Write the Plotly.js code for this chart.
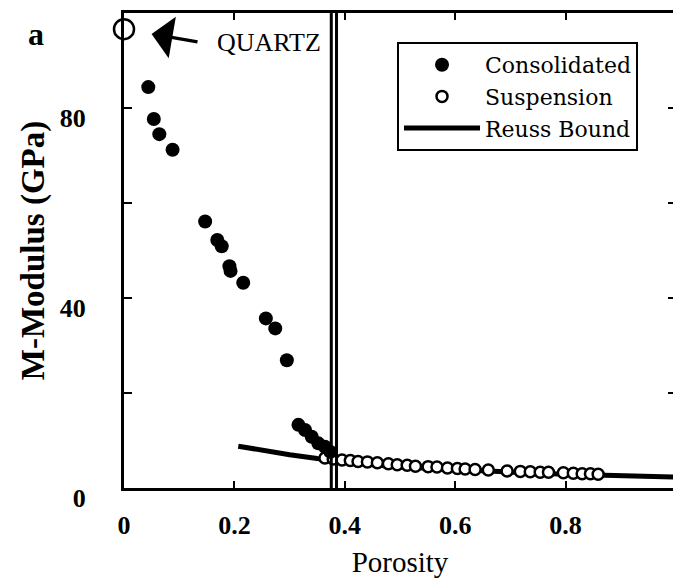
<!DOCTYPE html>
<html>
<head>
<meta charset="utf-8">
<script src="https://cdn.plot.ly/plotly-3.0.1.min.js"></script>
<style>
html,body{margin:0;padding:0;background:#fff;overflow:hidden;}
#chart{width:676px;height:578px;}
</style>
</head>
<body>
<div id="chart"></div>
<script>
// ---- data ----
const consolidatedPorosity = [0.044,0.054,0.064,0.088,0.147,0.169,0.177,0.191,0.193,0.216,0.257,0.274,0.295,0.316,0.328,0.340,0.352,0.364,0.374];
const consolidatedModulus  = [84.4,77.7,74.5,71.2,56.1,52.2,50.9,46.7,45.7,43.2,35.7,33.6,26.9,13.3,12.2,10.8,9.4,8.7,7.6];

const suspensionPorosity = [0.364,0.379,0.395,0.410,0.424,0.441,0.459,0.479,0.495,0.513,0.528,0.551,0.567,0.586,0.604,0.618,0.636,0.660,0.694,0.718,0.736,0.754,0.769,0.796,0.814,0.830,0.845,0.859];
const suspensionModulus  = [6.3,6.1,5.9,5.8,5.6,5.5,5.3,5.1,4.9,4.8,4.6,4.5,4.4,4.2,4.1,4.0,3.9,3.8,3.6,3.5,3.4,3.3,3.3,3.2,3.1,3.0,3.0,2.9];

const reussPorosity = [0.207,0.25,0.30,0.35,0.40,0.45,0.50,0.55,0.60,0.65,0.70,0.75,0.80,0.85,0.90,0.95,1.00];
const reussModulus  = [8.8,7.9,7.0,6.2,5.5,4.9,4.4,4.1,3.8,3.5,3.3,3.1,2.9,2.75,2.6,2.45,2.3];

const quartzPorosity = [0];
const quartzModulus  = [96.6];

const criticalPorosityLines = [0.3755, 0.385];

const xTickVals = [0,0.2,0.4,0.6,0.8];
const xTickText = ['0','0.2','0.4','0.6','0.8'];
const yTickVals = [0,20,40,60,80];
const yTickText = ['0','','40','','80'];

// ---- chart ----
const serif = 'Liberation Serif, Times New Roman, serif';
const wideSerif = 'DejaVu Serif, serif';

const traces = [
  {x: reussPorosity, y: reussModulus, mode:'lines', name:'Reuss Bound',
   line:{color:'#000', width:5}, legendrank:3},
  {x: suspensionPorosity, y: suspensionModulus, mode:'markers', name:'Suspension',
   marker:{symbol:'circle', size:11, color:'#fff', line:{color:'#000', width:2.5}}, legendrank:2},
  {x: consolidatedPorosity, y: consolidatedModulus, mode:'markers', name:'Consolidated',
   marker:{symbol:'circle', size:14, color:'#000'}, legendrank:1},
  {x: quartzPorosity, y: quartzModulus, mode:'markers', name:'Quartz', showlegend:false,
   marker:{symbol:'circle', size:20, color:'#fff', line:{color:'#000', width:2.5}}, cliponaxis:false}
];

const shapes = criticalPorosityLines.map(v => ({
  type:'line', xref:'x', yref:'y', x0:v, x1:v, y0:0, y1:100,
  line:{color:'#000', width:3}
}));

const layout = {
  width:676, height:578,
  margin:{l:124, r:0, t:13, b:90},
  paper_bgcolor:'#fff', plot_bgcolor:'#fff',
  font:{family:serif, color:'#000'},
  showlegend:true,
  legend:{
    x:0.4946, xanchor:'left', y:0.939, yanchor:'top',
    bgcolor:'#fff', bordercolor:'#000', borderwidth:2,
    font:{family:wideSerif, size:22, color:'#000'},
    itemwidth:76, tracegroupgap:0
  },
  xaxis:{
    range:[0,1], tickvals:xTickVals, ticktext:xTickText,
    ticks:'inside', ticklen:7, tickwidth:2, tickcolor:'#000',
    showline:true, linewidth:3, linecolor:'#000', mirror:'ticks',
    showgrid:false, zeroline:false,
    tickfont:{family:serif, size:26, weight:'bold', color:'#000'},
    ticklabelstandoff:12,
    title:{text:'Porosity', font:{family:serif, size:29, color:'#000'}, standoff:16}
  },
  yaxis:{
    range:[0,100], tickvals:yTickVals, ticktext:yTickText,
    ticks:'inside', ticklen:8, tickwidth:2, tickcolor:'#000',
    showline:true, linewidth:3, linecolor:'#000', mirror:'ticks',
    showgrid:false, zeroline:false,
    tickfont:{family:serif, size:26, weight:'bold', color:'#000'},
    ticklabelstandoff:30, ticklabelshift:10,
    title:{text:'M-Modulus (GPa)', font:{family:serif, size:33, weight:'bold', color:'#000'}, standoff:6}
  },
  shapes: shapes,
  annotations:[
    {xref:'paper', yref:'paper', x:-0.159, y:0.955, xanchor:'center', yanchor:'middle',
     text:'a', showarrow:false, font:{family:serif, size:32, weight:'bold', color:'#000'}},
    {xref:'paper', yref:'paper', x:0.165, y:0.937, xanchor:'left', yanchor:'middle',
     text:'QUARTZ', showarrow:false, font:{family:serif, size:26, color:'#000'}},
    {xref:'x', yref:'y', x:quartzPorosity[0], y:quartzModulus[0], text:'',
     showarrow:true, arrowhead:1, arrowsize:2, arrowwidth:3.5, arrowcolor:'#000',
     ax:75, ay:13, standoff:28}
  ]
};

Plotly.newPlot('chart', traces, layout, {displayModeBar:false, staticPlot:true});
</script>
</body>
</html>
